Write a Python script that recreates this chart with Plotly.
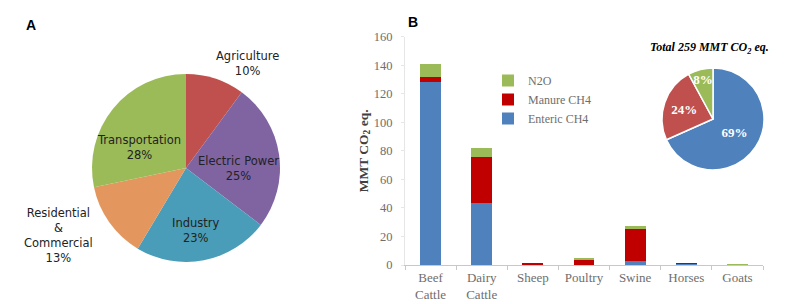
import plotly.graph_objects as go

# Panel A: sector shares
sectors = ["Agriculture", "Electric Power", "Industry", "Residential<br>&<br>Commercial", "Transportation"]
sector_pct = [10, 25, 23, 13, 28]
sector_colors = ["#C0504D", "#8064A2", "#4A9DB8", "#E3975F", "#9BBB59"]

# Panel B: livestock emissions (MMT CO2 eq.)
animals = ["Beef<br>Cattle", "Dairy<br>Cattle", "Sheep", "Poultry", "Swine", "Horses", "Goats"]
enteric = [128, 43.5, 0.7, 0, 2.5, 1.5, 0.3]
manure = [4, 32.5, 0.9, 3.5, 22.5, 0.1, 0.1]
n2o = [9, 6, 0.0, 1.5, 2, 0.0, 0.3]

# inset pie
source_labels = ["Enteric CH4", "Manure CH4", "N2O"]
source_pct = [69, 24, 8]
source_colors = ["#4F81BD", "#C0504D", "#9BBB59"]

W, H = 792, 304
SERIF = "Liberation Serif"
SANS = "DejaVu Sans"
GREY = "#6E6E6E"

# where the pie A labels sit (pixels from top-left), same order as sectors
label_xy = [(247, 63), (239, 168), (195, 230), (59, 235), (139, 147)]


def px(x):
    return x / W


def py(y):
    return 1 - y / H


fig = go.Figure()

# ---- pie A (labels drawn as annotations below)
fig.add_trace(go.Pie(
    labels=sectors, values=sector_pct, sort=False, direction="clockwise",
    marker=dict(colors=sector_colors, line=dict(width=0)),
    textinfo="none",
    domain=dict(x=[px(92), px(280)], y=[py(262), py(74)]),
    showlegend=False, hoverinfo="label+percent",
))

# ---- stacked bars B
for name, vals, col in [("Enteric CH4", enteric, "#4F81BD"),
                        ("Manure CH4", manure, "#C00000"),
                        ("N2O", n2o, "#9BBB59")]:
    fig.add_trace(go.Bar(x=animals, y=vals, name=name, marker=dict(color=col, line=dict(width=0))))

# ---- inset pie
fig.add_trace(go.Pie(
    labels=source_labels, values=source_pct, sort=False, direction="clockwise",
    marker=dict(colors=source_colors, line=dict(color="white", width=1.5)),
    text=[f"{p}%" for p in source_pct], textinfo="text", textposition="inside",
    insidetextorientation="horizontal",
    textfont=dict(family=SERIF, size=13, color="white", weight="bold"),
    domain=dict(x=[px(662), px(764)], y=[py(170), py(68)]),
    showlegend=False, hoverinfo="label+percent",
))

annotations = [
    dict(text="<b>A</b>", x=px(31), y=py(25), font=dict(family="Liberation Sans", size=14, color="black")),
    dict(text="<b>B</b>", x=px(413), y=py(22), font=dict(family="Liberation Sans", size=14, color="black")),
    dict(text="<b><i>Total 259 MMT CO<sub>2</sub> eq.</i></b>", x=px(709), y=py(48),
         font=dict(family=SERIF, size=12, color="black")),
]
for s, p, (lx, ly) in zip(sectors, sector_pct, label_xy):
    annotations.append(dict(text=f"{s}<br>{p}%", x=px(lx), y=py(ly),
                            font=dict(family=SANS, size=11.5, color="#222222")))
for a in annotations:
    a.update(xref="paper", yref="paper", showarrow=False, xanchor="center", yanchor="middle")

fig.update_layout(
    width=W, height=H, margin=dict(l=0, r=0, t=0, b=0, autoexpand=False),
    paper_bgcolor="white", plot_bgcolor="white",
    barmode="stack", bargap=0.59,
    uniformtext=dict(minsize=11, mode="show"),
    xaxis=dict(domain=[px(405), px(763)], showgrid=False, showline=True, linecolor="#C8C8C8",
               ticks="outside", tickson="boundaries", ticklen=4, tickcolor="#C8C8C8",
               automargin=False, tickfont=dict(family=SERIF, size=13, color=GREY)),
    yaxis=dict(domain=[py(265), py(36.7)], range=[0, 160], dtick=20, showgrid=False,
               showline=True, linecolor="#E6E6E6", zeroline=False,
               ticks="outside", ticklen=3, tickcolor="#E6E6E6", ticklabelstandoff=6,
               automargin=False,
               tickfont=dict(family=SERIF, size=12.5, color=GREY),
               title=dict(text="<b>MMT CO<sub>2</sub> eq.</b>", standoff=2,
                          font=dict(family=SERIF, size=13.5, color="#404040"))),
    legend=dict(x=px(488), y=py(66), xanchor="left", yanchor="top", traceorder="reversed",
                font=dict(family=SERIF, size=12, color=GREY), bgcolor="rgba(0,0,0,0)"),
    annotations=annotations,
)

fig.write_html("out.html", config={"displayModeBar": False},
               post_script="document.body.style.margin='0';")
